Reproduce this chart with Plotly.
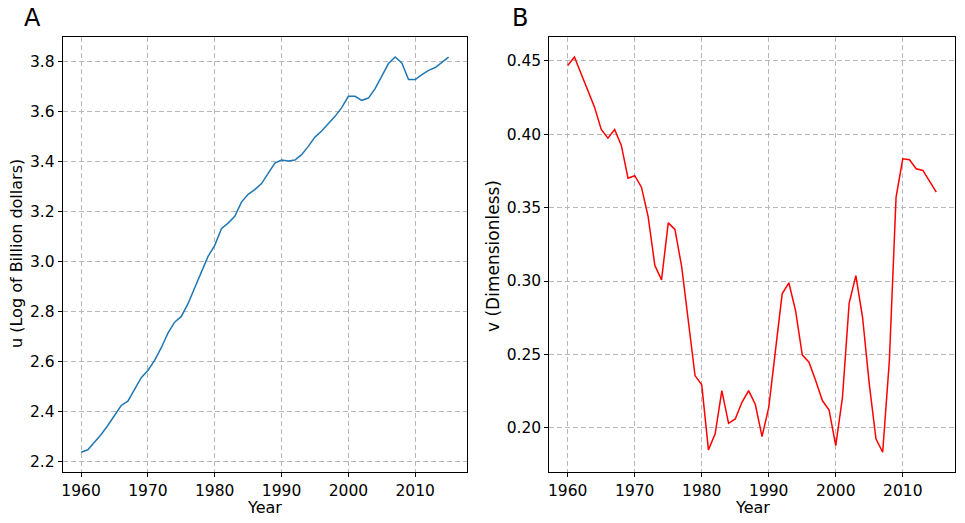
import plotly.graph_objects as go

W, H = 965, 523

years = list(range(1960, 2016))

u_values = [
    2.238, 2.248, 2.278, 2.309, 2.345, 2.385, 2.425, 2.442, 2.488, 2.536,
    2.565, 2.605, 2.656, 2.714, 2.758, 2.781, 2.832, 2.892, 2.958, 3.021,
    3.065, 3.132, 3.154, 3.181, 3.238, 3.269, 3.288, 3.312, 3.352, 3.394,
    3.406, 3.402, 3.406, 3.428, 3.461, 3.498, 3.522, 3.552, 3.581, 3.616,
    3.661, 3.661, 3.645, 3.654, 3.692, 3.742, 3.792, 3.818, 3.794, 3.728,
    3.728, 3.748, 3.765, 3.776, 3.798, 3.818,
]

v_values = [
    0.4468, 0.4525, 0.4411, 0.4298, 0.4184, 0.4032, 0.3973, 0.4032, 0.3923, 0.3700,
    0.3717, 0.3639, 0.3439, 0.3106, 0.3008, 0.3396, 0.3351, 0.3099, 0.2731, 0.2356,
    0.2293, 0.1850, 0.1959, 0.2254, 0.2031, 0.2061, 0.2174, 0.2254, 0.2159, 0.1941,
    0.2140, 0.2527, 0.2913, 0.2988, 0.2799, 0.2497, 0.2447, 0.2322, 0.2186, 0.2122,
    0.1879, 0.2208, 0.2849, 0.3037, 0.2753, 0.2300, 0.1925, 0.1834, 0.2458, 0.3571,
    0.3832, 0.3826, 0.3764, 0.3753, 0.3680, 0.3605,
]

x_ticks = [1960, 1970, 1980, 1990, 2000, 2010]
u_ticks = [2.2, 2.4, 2.6, 2.8, 3.0, 3.2, 3.4, 3.6, 3.8]
v_ticks = [0.20, 0.25, 0.30, 0.35, 0.40, 0.45]

FONT = "DejaVu Sans"


def px_x(p):
    return p / W


def px_y(p):
    return 1 - p / H


fig = go.Figure()
fig.add_trace(go.Scatter(x=years, y=u_values, mode="lines",
                         line=dict(color="#1f77b4", width=1.5),
                         xaxis="x", yaxis="y", showlegend=False))
fig.add_trace(go.Scatter(x=years, y=v_values, mode="lines",
                         line=dict(color="red", width=1.5),
                         xaxis="x2", yaxis="y2", showlegend=False))


def xr(vals):
    # matplotlib-style 5% padding
    span = max(vals) - min(vals)
    return [min(vals) - 0.05 * span, max(vals) + 0.05 * span]


axis_common = dict(
    showline=True, linecolor="black", linewidth=1, mirror=True,
    ticks="outside", ticklen=4, tickwidth=1, tickcolor="black",
    showgrid=True, gridcolor="#b8b8b8", gridwidth=1, griddash="5px,3px",
    zeroline=False, automargin=False,
    tickfont=dict(family=FONT, size=15.5, color="black"),
)

fig.update_layout(
    width=W, height=H,
    margin=dict(l=0, r=0, t=0, b=0),
    paper_bgcolor="white", plot_bgcolor="white",
    font=dict(family=FONT, color="black"),
    xaxis=dict(domain=[px_x(62.7), px_x(467)], range=xr(years), tickvals=x_ticks,
               anchor="y", **axis_common),
    yaxis=dict(domain=[px_y(472), px_y(37.3)], range=xr(u_values), tickvals=u_ticks,
               ticktext=[f"{t:.1f}" for t in u_ticks], anchor="x", **axis_common),
    xaxis2=dict(domain=[px_x(549.3), px_x(954.7)], range=xr(years), tickvals=x_ticks,
                anchor="y2", **axis_common),
    yaxis2=dict(domain=[px_y(472), px_y(37.3)], range=xr(v_values), tickvals=v_ticks,
                ticktext=[f"{t:.2f}" for t in v_ticks], anchor="x2", **axis_common),
)

label_font = dict(family=FONT, size=24, color="black")
annotations = [
    dict(text="A", x=px_x(22), y=px_y(18), xanchor="left", yanchor="middle", font=label_font),
    dict(text="B", x=px_x(510), y=px_y(18), xanchor="left", yanchor="middle", font=label_font),
    dict(text="Year", x=px_x(264.9), y=px_y(507), xanchor="center", yanchor="middle",
         font=dict(family=FONT, size=16, color="black")),
    dict(text="Year", x=px_x(752), y=px_y(507), xanchor="center", yanchor="middle",
         font=dict(family=FONT, size=16, color="black")),
    dict(text="u (Log of Billion dollars)", x=px_x(16.5), y=px_y(253.5), textangle=-90,
         xanchor="center", yanchor="middle", font=dict(family=FONT, size=16, color="black")),
    dict(text="v (Dimensionless)", x=px_x(492.5), y=px_y(256.5), textangle=-90,
         xanchor="center", yanchor="middle", font=dict(family=FONT, size=17, color="black")),
]
for a in annotations:
    a.update(xref="paper", yref="paper", showarrow=False)
fig.update_layout(annotations=annotations)

fig.write_html("out.html", config={"displayModeBar": False},
               post_script="document.body.style.margin='0';")
